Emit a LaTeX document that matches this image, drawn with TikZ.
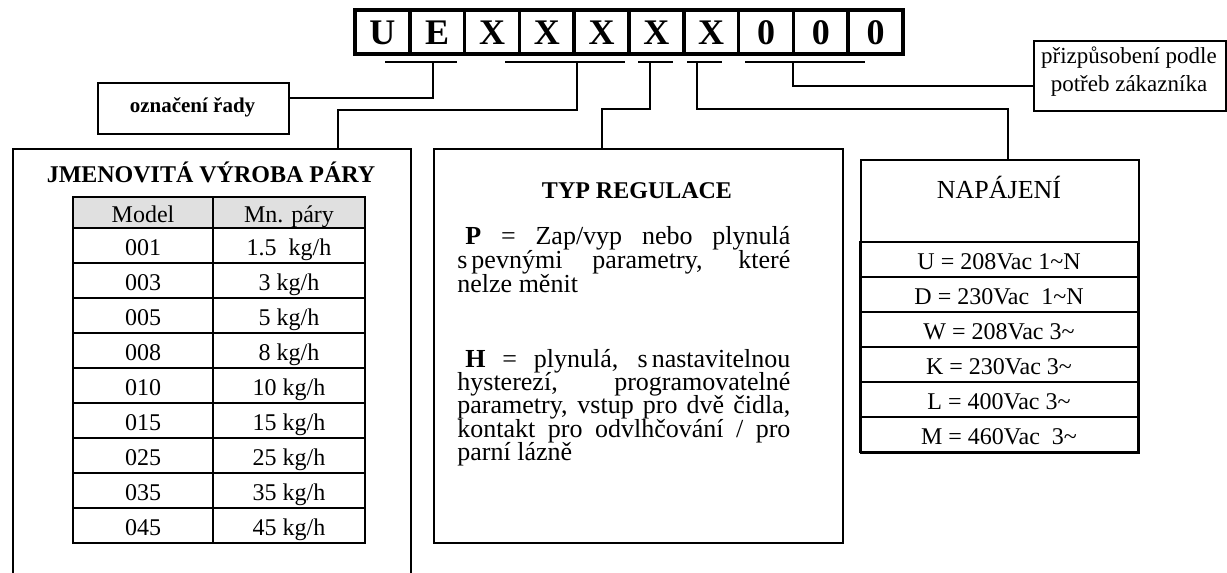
\documentclass[tikz,border=0pt]{standalone}
\usepackage{fontspec}
\setmainfont{Liberation Serif}
\begin{document}
\begin{tikzpicture}[x=0.5pt,y=-0.5pt,
  cell/.style={draw, line width=1.8pt, minimum width=27.4pt, minimum height=22pt, inner sep=0pt, text height=13pt, text depth=0pt, font=\fontsize{18}{18}\selectfont\bfseries},
  boxw/.style={draw, line width=1.1pt, inner sep=0pt, anchor=north west},
  tcell/.style={draw, line width=1pt, inner sep=0pt, text height=10pt, text depth=0.5pt, font=\fontsize{12}{14}\selectfont},
  lcol/.style={tcell, minimum width=70pt, minimum height=17.5pt},
  rcol/.style={tcell, minimum width=76pt, minimum height=17.5pt},
  prow/.style={tcell, minimum width=139pt, minimum height=17.5pt},
  conn/.style={line width=0.7pt},
  txt/.style={inner sep=0pt, font=\fontsize{12}{14}\selectfont},
  para/.style={inner sep=0pt, anchor=base west, font=\fontsize{13}{14}\selectfont},
]
\clip (0,0) rectangle (1227,573);
\fill[white] (0,0) rectangle (1227,573);

% code cells
\foreach \t [count=\i from 0] in {U,E,X,X,X,X,X,0,0,0} {
  \node[cell] (c\i) at ({382.4+54.8*\i},32) {\t};
}

% boxes
\node[boxw, line width=1pt, minimum width=95.5pt, minimum height=25.5pt] (ozn) at (97,82) {};
\node[txt, anchor=base, font=\fontsize{10.5}{12}\selectfont\bfseries] (ozntxt) at (192.5,112) {označení řady};

\node[boxw, minimum width=199pt, minimum height=230pt] (jmen) at (12,148) {};
\node[txt, anchor=base, font=\fontsize{12}{14}\selectfont\bfseries] (jmentitle) at (211,182) {JMENOVITÁ VÝROBA PÁRY};

\node[boxw, minimum width=204.5pt, minimum height=197pt] (typ) at (433,148) {};
\node[txt, anchor=base, font=\fontsize{12}{14}\selectfont\bfseries] (typtitle) at (637,198) {TYP REGULACE};

\node[boxw, minimum width=139pt, minimum height=146.5pt] (nap) at (860,159) {};
\node[txt, anchor=base, font=\fontsize{13}{15}\selectfont] (naptitle) at (999,198) {NAPÁJENÍ};

\node[boxw, line width=0.8pt, minimum width=96pt, minimum height=35pt] (prz) at (1033,40) {};
\node[txt, anchor=base, font=\fontsize{11.5}{13}\selectfont] (prz1) at (1129,63) {přizpůsobení podle};
\node[txt, anchor=base, font=\fontsize{11.5}{13}\selectfont] (prz2) at (1129,91) {potřeb zákazníka};

% steam table
\node[tcell, minimum width=70pt, minimum height=15.5pt, fill=black!12] (h1) at (143,212.5) {Model};
\node[tcell, minimum width=76pt, minimum height=15.5pt, fill=black!12] (h2) at (289,212.5) {Mn. páry};
\node[lcol] (m1) at (143,245.5) {001}; \node[rcol] (q1) at (289,245.5) {1.5\ \ kg/h};
\node[lcol] (m2) at (143,280.5) {003}; \node[rcol] (q2) at (289,280.5) {3 kg/h};
\node[lcol] (m3) at (143,315.5) {005}; \node[rcol] (q3) at (289,315.5) {5 kg/h};
\node[lcol] (m4) at (143,350.5) {008}; \node[rcol] (q4) at (289,350.5) {8 kg/h};
\node[lcol] (m5) at (143,385.5) {010}; \node[rcol] (q5) at (289,385.5) {10 kg/h};
\node[lcol] (m6) at (143,420.5) {015}; \node[rcol] (q6) at (289,420.5) {15 kg/h};
\node[lcol] (m7) at (143,455.5) {025}; \node[rcol] (q7) at (289,455.5) {25 kg/h};
\node[lcol] (m8) at (143,490.5) {035}; \node[rcol] (q8) at (289,490.5) {35 kg/h};
\node[lcol] (m9) at (143,525.5) {045}; \node[rcol] (q9) at (289,525.5) {45 kg/h};

% regulation text
\node[para] (p1) at (457,244) {\makebox[166.5pt][s]{\hspace{4pt}\textbf{P} = Zap/vyp nebo plynulá}};
\node[para] (p2) at (457,268) {\makebox[166.5pt][s]{s\hspace{2pt}pevnými parametry, které}};
\node[para] (p3) at (457,292) {nelze měnit};
\node[para] (h1t) at (457,367) {\makebox[166.5pt][s]{\hspace{4pt}\textbf{H} = plynulá, s\hspace{2pt}nastavitelnou}};
\node[para] (h2t) at (457,390) {\makebox[166.5pt][s]{hysterezí, programovatelné}};
\node[para] (h3t) at (457,413) {\makebox[166.5pt][s]{parametry, vstup pro dvě čidla,}};
\node[para] (h4t) at (457,437) {\makebox[166.5pt][s]{kontakt pro odvlhčování / pro}};
\node[para] (h5t) at (457,460) {parní lázně};

% power table
\node[prow] (r1) at (999,259.5) {U = 208Vac 1\textasciitilde N};
\node[prow] (r2) at (999,294.5) {D = 230Vac\ \ 1\textasciitilde N};
\node[prow] (r3) at (999,329.5) {W = 208Vac 3\textasciitilde};
\node[prow] (r4) at (999,364.5) {K = 230Vac 3\textasciitilde};
\node[prow] (r5) at (999,399.5) {L = 400Vac 3\textasciitilde};
\node[prow] (r6) at (999,434.5) {M = 460Vac\ \ 3\textasciitilde};

% underlines
\coordinate (s1a) at (385,62); \coordinate (s1b) at (457,62);
\coordinate (s2a) at (505,62); \coordinate (s2b) at (625,62);
\coordinate (s3a) at (638,62); \coordinate (s3b) at (673,62);
\coordinate (s4a) at (687,62); \coordinate (s4b) at (722,62);
\coordinate (s5a) at (745,62); \coordinate (s5b) at (865,62);
\foreach \k in {1,...,5} { \draw[conn] (s\k a) -- (s\k b); }

% connectors
\coordinate (d1) at (433,62); \coordinate (k1) at (433,98);
\draw[conn] (d1) -- (k1) -- (k1 -| ozn.east);
\coordinate (d2) at (577,62); \coordinate (k2) at (577,110); \coordinate (k2b) at (338,110);
\draw[conn] (d2) -- (k2) -- (k2b) -- (k2b |- jmen.north);
\coordinate (d3) at (650,62); \coordinate (k3) at (650,109); \coordinate (k3b) at (602,109);
\draw[conn] (d3) -- (k3) -- (k3b) -- (k3b |- typ.north);
\coordinate (d4) at (697,62); \coordinate (k4) at (697,109); \coordinate (k4b) at (1008,109);
\draw[conn] (d4) -- (k4) -- (k4b) -- (k4b |- nap.north);
\coordinate (d5) at (793,62); \coordinate (k5) at (793,86);
\draw[conn] (d5) -- (k5) -- (k5 -| prz.west);
\end{tikzpicture}
\end{document}
